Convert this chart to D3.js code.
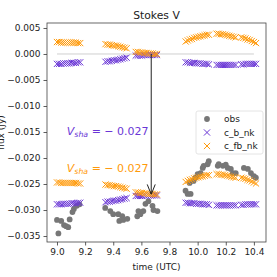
<!DOCTYPE html>
<meta charset="utf-8">
<style>
body { margin: 0; background: #fff; }
text { font-family: "DejaVu Sans", sans-serif; fill: #222; }
</style>
<body>
<svg width="277" height="277"></svg>
</body>
<script src="https://d3js.org/d3.v7.min.js"></script>
<script>

// observed Stokes V (Jy)
var obsTime = [9.000, 9.010, 9.030, 9.050, 9.065, 9.080, 9.090, 9.110, 9.120, 9.140, 9.160,
               9.343, 9.379, 9.400, 9.436, 9.443, 9.464, 9.471, 9.500,
               9.571, 9.579, 9.593, 9.614, 9.629, 9.650, 9.679, 9.686, 9.714,
               9.914, 9.929, 9.950, 9.943, 9.971, 9.986, 10.000, 10.021, 10.036, 10.043, 10.071, 10.079,
               10.143, 10.150, 10.179, 10.200, 10.214, 10.236, 10.250, 10.271,
               10.329, 10.357, 10.379, 10.400, 10.414];
var obsFlux = [-0.0319, -0.0345, -0.0321, -0.0329, -0.0331, -0.0333, -0.0318, -0.0304, -0.0298, -0.0292, -0.0289,
               -0.0296, -0.0302, -0.0308, -0.0308, -0.0321, -0.0312, -0.0319, -0.0317,
               -0.0312, -0.0302, -0.0308, -0.0302, -0.0288, -0.0283, -0.0292, -0.0300, -0.0302,
               -0.0263, -0.0269, -0.0269, -0.0248, -0.0244, -0.0238, -0.0231, -0.0229, -0.0219, -0.0215, -0.0212, -0.0206,
               -0.0215, -0.0212, -0.0215, -0.0213, -0.0219, -0.0221, -0.0229, -0.0229,
               -0.0219, -0.0221, -0.0229, -0.0235, -0.0238];

// model times
var modTime = [9.000, 9.015, 9.030, 9.045, 9.060, 9.075, 9.090, 9.105, 9.120, 9.135, 9.150, 9.165,
               9.345, 9.360, 9.375, 9.390, 9.405, 9.420, 9.435, 9.450, 9.465, 9.480, 9.495,
               9.560, 9.575, 9.590, 9.605, 9.620, 9.635, 9.650, 9.665, 9.680, 9.695, 9.710,
               9.915, 9.930, 9.945, 9.960, 9.975, 9.990, 10.005, 10.020, 10.035, 10.050, 10.065, 10.080,
               10.135, 10.150, 10.165, 10.180, 10.195, 10.210, 10.225, 10.240, 10.255, 10.270,
               10.310, 10.325, 10.340, 10.355, 10.370, 10.385, 10.400, 10.415];
var cbnk = [-0.0019, -0.0019, -0.0019, -0.0018, -0.0018, -0.0018, -0.0018, -0.0017, -0.0017, -0.0017, -0.0016, -0.0016,
            -0.0015, -0.0014, -0.0014, -0.0013, -0.0012, -0.0012, -0.0011, -0.0010, -0.0009, -0.0008, -0.0007,
            -0.0003, -0.0003, -0.0003, -0.0003, -0.0002, -0.0002, -0.0002, -0.0002, -0.0002, -0.0002, -0.0002,
            -0.0016, -0.0016, -0.0017, -0.0017, -0.0017, -0.0018, -0.0018, -0.0018, -0.0019, -0.0019, -0.0019, -0.0020,
            -0.0021, -0.0021, -0.0021, -0.0021, -0.0021, -0.0021, -0.0021, -0.0021, -0.0021, -0.0021,
            -0.0020, -0.0020, -0.0019, -0.0019, -0.0019, -0.0019, -0.0019, -0.0019];
var cfbnk = [0.0023, 0.0023, 0.0022, 0.0022, 0.0022, 0.0022, 0.0022, 0.0022, 0.0022, 0.0022, 0.0021, 0.0021,
             0.0019, 0.0018, 0.0018, 0.0017, 0.0016, 0.0016, 0.0015, 0.0014, 0.0013, 0.0012, 0.0011,
             0.0004, 0.0004, 0.0003, 0.0003, 0.0002, 0.0002, 0.0001, 0.0001, 0.0001, 0.0000, 0.0000,
             0.0024, 0.0026, 0.0028, 0.0029, 0.0031, 0.0032, 0.0033, 0.0034, 0.0035, 0.0036, 0.0037, 0.0037,
             0.0039, 0.0039, 0.0038, 0.0038, 0.0037, 0.0036, 0.0035, 0.0034, 0.0033, 0.0032,
             0.0032, 0.0031, 0.0030, 0.0028, 0.0027, 0.0025, 0.0023, 0.0021];

var vsha = -0.027;
var xTicks = [9.0, 9.2, 9.4, 9.6, 9.8, 10.0, 10.2, 10.4];
var yTicks = [0.005, 0.000, -0.005, -0.010, -0.015, -0.020, -0.025, -0.030, -0.035];
var legendLabels = ["obs", "c_b_nk", "c_fb_nk"];

var purple = "#6a36d6", orange = "#ff9a0a", gray = "#777";

var svg = d3.select("svg"),
    margin = {top: 23, right: 11, bottom: 35, left: 47},
    width = 277 - margin.left - margin.right,
    height = 277 - margin.top - margin.bottom,
    g = svg.append("g").attr("transform", "translate(" + margin.left + "," + margin.top + ")");

var x = d3.scaleLinear().domain([8.929, 10.486]).range([0, width]);
var y = d3.scaleLinear().domain([-0.03615, 0.00596]).range([height, 0]);

// axes
var xAxis = g.append("g").attr("transform", "translate(0," + height + ")")
    .call(d3.axisBottom(x).tickValues(xTicks).tickFormat(d3.format(".1f")).tickSize(3.5).tickPadding(3));
var yAxis = g.append("g")
    .call(d3.axisLeft(y).tickValues(yTicks).tickFormat(d3.format(".3f")).tickSize(3.5).tickPadding(3));
[xAxis, yAxis].forEach(function(a) {
  a.select(".domain").remove();
  a.selectAll("line").attr("stroke", "#333").attr("stroke-width", 0.8);
  a.selectAll("text").attr("font-size", 9).attr("fill", "#222").attr("font-family", "DejaVu Sans");
});

// zero line
g.append("line")
    .attr("x1", x(9.0)).attr("x2", x(10.4))
    .attr("y1", y(0)).attr("y2", y(0))
    .attr("stroke", "#cfcfcf").attr("stroke-width", 1);

function cross(sel, color) {
  sel.each(function(d) {
    var s = d3.select(this), r = 3.1;
    s.append("line").attr("x1", -r).attr("y1", -r).attr("x2", r).attr("y2", r);
    s.append("line").attr("x1", -r).attr("y1", r).attr("x2", r).attr("y2", -r);
  }).attr("stroke", color).attr("stroke-width", 1);
}

function drawModel(vals, shift, color) {
  g.append("g").selectAll("g")
    .data(modTime.map(function(t, i) { return [t, vals[i] + shift]; }))
    .enter().append("g")
      .attr("transform", function(d) { return "translate(" + x(d[0]) + "," + y(d[1]) + ")"; })
      .call(cross, color);
}

// observed points
g.append("g").selectAll("circle")
  .data(obsTime.map(function(t, i) { return [t, obsFlux[i]]; }))
  .enter().append("circle")
    .attr("cx", function(d) { return x(d[0]); })
    .attr("cy", function(d) { return y(d[1]); })
    .attr("r", 2.9)
    .attr("fill", gray);

drawModel(cbnk, 0, purple);
drawModel(cbnk, vsha, purple);
drawModel(cfbnk, 0, orange);
drawModel(cfbnk, vsha, orange);

// arrow
svg.append("defs").append("marker")
    .attr("id", "head").attr("viewBox", "0 0 10 10")
    .attr("refX", 10).attr("refY", 5)
    .attr("markerWidth", 10).attr("markerHeight", 10)
    .attr("markerUnits", "userSpaceOnUse")
    .attr("orient", "auto")
  .append("path").attr("d", "M0,1 L10,5 L0,9").attr("fill", "none")
    .attr("stroke", "#222").attr("stroke-width", 1);
g.append("line")
    .attr("x1", x(9.67)).attr("x2", x(9.67))
    .attr("y1", y(0)).attr("y2", y(vsha))
    .attr("stroke", "#222").attr("stroke-width", 1)
    .attr("marker-end", "url(#head)");

// V_sha labels
function vshaLabel(ty, color) {
  var t = g.append("text").attr("x", x(9.07)).attr("y", y(ty))
      .attr("font-size", 11).style("fill", color);
  t.append("tspan").attr("font-style", "italic").text("V");
  t.append("tspan").attr("font-style", "italic").attr("font-size", 7.8).attr("dy", 2.4).text("sha");
  t.append("tspan").attr("dy", -2.4).text(" = \u2212 " + Math.abs(vsha).toFixed(3));
}
vshaLabel(-0.0155, purple);
vshaLabel(-0.0226, orange);

// frame
g.append("rect").attr("width", width).attr("height", height)
    .attr("fill", "none").attr("stroke", "#444").attr("stroke-width", 0.8);

// legend
var lg = g.append("g").attr("transform", "translate(" + (width - 70) + ",88)");
lg.append("rect").attr("width", 67).attr("height", 43).attr("rx", 2)
    .attr("fill", "#fff").attr("fill-opacity", 0.8).attr("stroke", "#ddd").attr("stroke-width", 0.8);
legendLabels.forEach(function(l, i) {
  var row = lg.append("g").attr("transform", "translate(0," + (8 + i * 13.5) + ")");
  if (i === 0) row.append("circle").attr("cx", 11).attr("cy", 0).attr("r", 2.9).attr("fill", gray);
  else row.append("g").attr("transform", "translate(11,0)").call(cross, i === 1 ? purple : orange);
  row.append("text").attr("x", 28).attr("y", 3.2).attr("font-size", 9).text(l);
});

// title and labels
svg.append("text").attr("x", margin.left + width / 2).attr("y", 19)
    .attr("text-anchor", "middle").attr("font-size", 10.8).text("Stokes V");
svg.append("text").attr("x", margin.left + width / 2).attr("y", 270)
    .attr("text-anchor", "middle").attr("font-size", 9).text("time (UTC)");
svg.append("text").attr("transform", "translate(4," + (margin.top + height / 2) + ") rotate(-90)")
    .attr("text-anchor", "middle").attr("font-size", 9).text("flux (Jy)");

</script>
